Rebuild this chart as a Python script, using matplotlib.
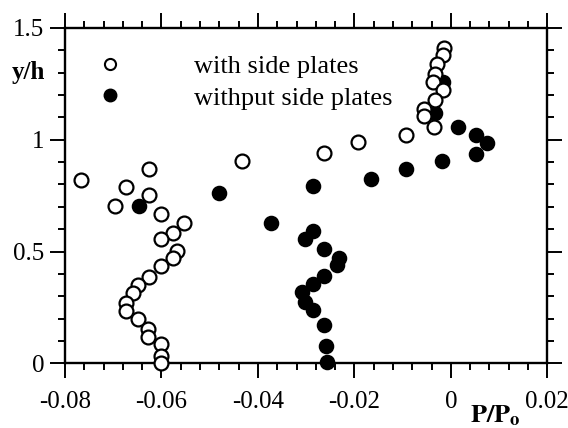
import matplotlib
matplotlib.use("Agg")
import matplotlib.pyplot as plt
import matplotlib.ticker as ticker
from matplotlib.lines import Line2D

plt.rcParams['font.family'] = ['Liberation Serif', 'DejaVu Serif']
plt.rcParams['mathtext.fontset'] = 'stix'
plt.rcParams['axes.unicode_minus'] = False

# data
with_x = [-0.0014, -0.0016, -0.0028, -0.0033, -0.0038, -0.0016, -0.0033, -0.0056, -0.0056,
          -0.0035, -0.0094, -0.0192, -0.0262, -0.0432, -0.0626, -0.0766, -0.0674, -0.0626,
          -0.0697, -0.0600, -0.0553, -0.0577, -0.0600, -0.0567, -0.0577, -0.0600, -0.0626,
          -0.0649, -0.0660, -0.0674, -0.0674, -0.0649, -0.0628, -0.0628, -0.0600, -0.0600,
          -0.0600]
with_y = [1.412, 1.377, 1.337, 1.292, 1.258, 1.221, 1.176, 1.139, 1.105,
          1.057, 1.020, 0.989, 0.942, 0.906, 0.867, 0.822, 0.787, 0.752,
          0.704, 0.667, 0.626, 0.584, 0.554, 0.504, 0.470, 0.435, 0.388,
          0.350, 0.313, 0.271, 0.236, 0.197, 0.153, 0.117, 0.086, 0.033,
          0.001]

without_x = [-0.0016, -0.0032, 0.0014, 0.0053, 0.0074, 0.0053, -0.0019, -0.0094, -0.0165,
             -0.0285, -0.0481, -0.0647, -0.0372, -0.0286, -0.0303, -0.0264, -0.0232, -0.0237,
             -0.0264, -0.0286, -0.0308, -0.0303, -0.0286, -0.0264, -0.0259, -0.0256]
without_y = [1.26, 1.12, 1.057, 1.023, 0.986, 0.938, 0.904, 0.871, 0.826,
             0.791, 0.761, 0.704, 0.629, 0.593, 0.556, 0.511, 0.472, 0.440,
             0.391, 0.355, 0.321, 0.276, 0.239, 0.172, 0.078, 0.008]

labels = ["with side plates", "withput side plates"]

fig = plt.figure(figsize=(5.68, 4.28), dpi=100)
ax = fig.add_axes([65 / 568, 1 - 363.3 / 428, 482.3 / 568, 335.3 / 428])

#filled first so the open circles sit on top
ax.plot(without_x, without_y, 'o', ms=10, mfc='black', mec='black', mew=1.2,
        clip_on=False, zorder=3)
ax.plot(with_x, with_y, 'o', ms=10, mfc='white', mec='black', mew=1.6,
        clip_on=False, zorder=4)

ax.set_xlim(-0.08, 0.02)
ax.set_ylim(0, 1.5)

ax.xaxis.set_major_locator(ticker.MultipleLocator(0.02))
ax.xaxis.set_minor_locator(ticker.MultipleLocator(0.004))
ax.yaxis.set_major_locator(ticker.MultipleLocator(0.5))
ax.yaxis.set_minor_locator(ticker.MultipleLocator(0.1))
ax.xaxis.set_major_formatter(ticker.FuncFormatter(lambda v, pos: f"{v:g}" if abs(v) > 1e-9 else "0"))
ax.yaxis.set_major_formatter(ticker.FuncFormatter(lambda v, pos: f"{v:g}"))

for s in ax.spines.values():
    s.set_linewidth(1.7)

ax.tick_params(which='both', direction='out', top=True, right=True, width=1.4,
               labelsize=18)
ax.tick_params(which='major', length=11)
ax.tick_params(which='minor', length=5)
ax.tick_params(axis='x', pad=9)
ax.tick_params(axis='y', pad=4)

#legend
handles = [Line2D([], [], ls='none', marker='o', ms=8, mfc='white', mec='black', mew=1.5),
           Line2D([], [], ls='none', marker='o', ms=9, mfc='black', mec='black')]
ax.legend(handles, labels, loc='upper left', bbox_to_anchor=(0.066, 0.92),
          frameon=False, fontsize=19, handlelength=1.0, handletextpad=2.7,
          borderpad=0, borderaxespad=0, labelspacing=0.3)

#axis labels
fig.text(28 / 568, 1 - 72 / 428, "y/h", fontsize=18, fontweight='bold',
         ha='center', va='center')
fig.text(470 / 568, 1 - 422 / 428, r"$\mathbf{P/P_{o}}$", fontsize=19,
         ha='left', va='baseline')

fig.savefig("out.png", dpi=100)
